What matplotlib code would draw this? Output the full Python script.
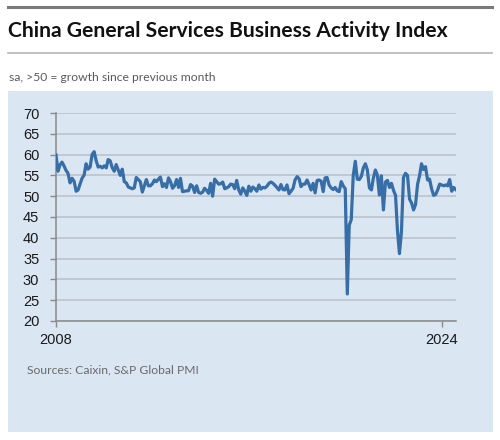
import pandas as pd
import matplotlib.pyplot as plt
from matplotlib.patches import Rectangle
from matplotlib.lines import Line2D

# Caixin China General Services PMI, monthly, Jan 2008 - Aug 2024 (sa)
pmi_2008 = [59.9, 56.0, 57.5, 58.2, 57.3, 56.2, 55.5, 53.2, 54.3, 53.6, 51.2, 51.5]
pmi_2009 = [53.0, 54.4, 55.0, 57.8, 56.5, 57.0, 60.0, 60.7, 58.5, 57.0, 57.2, 56.8]
pmi_2010 = [57.3, 56.8, 58.8, 58.5, 56.9, 56.0, 57.6, 56.3, 55.0, 56.5, 53.5, 53.2]
pmi_2011 = [52.2, 52.0, 51.8, 52.0, 54.5, 54.0, 53.5, 51.0, 52.5, 54.0, 52.5, 52.5]
pmi_2012 = [53.0, 53.9, 53.5, 54.1, 54.6, 52.3, 53.0, 52.1, 54.4, 53.5, 51.9, 52.5]
pmi_2013 = [54.0, 52.1, 54.3, 51.1, 51.2, 51.3, 51.3, 52.8, 52.4, 50.9, 52.5, 50.9]
pmi_2014 = [50.7, 51.0, 51.9, 51.4, 50.7, 53.1, 50.0, 54.1, 53.5, 52.9, 53.0, 53.4]
pmi_2015 = [51.8, 52.0, 52.3, 52.9, 52.8, 51.8, 53.8, 51.5, 50.5, 52.0, 51.2, 50.2]
pmi_2016 = [52.4, 51.2, 52.2, 51.8, 51.2, 52.7, 51.7, 52.1, 52.0, 52.4, 53.1, 53.4]
pmi_2017 = [53.1, 52.6, 52.1, 51.5, 52.8, 51.6, 51.5, 52.7, 50.6, 51.2, 51.9, 53.9]
pmi_2018 = [54.7, 54.2, 52.3, 52.9, 52.9, 53.9, 52.8, 51.5, 53.1, 50.8, 53.8, 53.9]
pmi_2019 = [53.6, 51.1, 54.4, 54.5, 52.7, 52.0, 51.6, 52.1, 51.3, 51.1, 53.5, 52.5]
pmi_2020 = [51.8, 26.5, 43.0, 44.4, 55.0, 58.4, 54.1, 54.0, 54.8, 56.8, 57.8, 56.3]
pmi_2021 = [52.0, 51.5, 54.3, 56.3, 55.1, 50.3, 54.9, 46.7, 53.4, 53.8, 52.1, 53.1]
pmi_2022 = [51.4, 50.2, 42.0, 36.2, 41.4, 54.5, 55.5, 55.0, 49.3, 48.4, 46.7, 48.0]
pmi_2023 = [52.9, 55.0, 57.8, 56.4, 57.1, 53.9, 54.1, 51.8, 50.2, 50.4, 51.5, 52.9]
pmi_2024 = [52.7, 52.5, 52.7, 52.5, 54.0, 51.2, 52.1, 51.6]

y_ticks = [20, 25, 30, 35, 40, 45, 50, 55, 60, 65, 70]
x_tick_labels = ['2008', '2024']

values = (pmi_2008 + pmi_2009 + pmi_2010 + pmi_2011 + pmi_2012 + pmi_2013
          + pmi_2014 + pmi_2015 + pmi_2016 + pmi_2017 + pmi_2018 + pmi_2019
          + pmi_2020 + pmi_2021 + pmi_2022 + pmi_2023 + pmi_2024)
dates = pd.date_range('2008-01-01', periods=len(values), freq='MS')
df = pd.DataFrame({'pmi': values}, index=dates)

BLUE_BG = '#dbe6f3'
LINE = '#376ea8'

fig = plt.figure(figsize=(5, 4.4), dpi=100)
W, H = 500, 440


def fx(px):
    return px / W


def fy(py):
    return 1 - py / H


# header rules and background panel
fig.add_artist(Line2D([fx(8), fx(492)], [fy(7.5), fy(7.5)], color='#7a7a7a', lw=2.2))
fig.add_artist(Line2D([fx(8), fx(492)], [fy(53), fy(53)], color='#b5b5b5', lw=1.2))
fig.add_artist(Rectangle((fx(8), fy(432)), fx(485), (432 - 91) / H,
                         facecolor=BLUE_BG, edgecolor='none', zorder=0))

fig.text(fx(8), fy(31), 'China General Services Business Activity Index',
         fontsize=15.2, fontweight='bold', family='Lato', color='#111111', va='center')
fig.text(fx(9), fy(77), 'sa, >50 = growth since previous month',
         fontsize=8.7, family='Lato', color='#5a5a5a', va='center')
fig.text(fx(27), fy(370), 'Sources: Caixin, S&P Global PMI',
         fontsize=8.7, family='Lato', color='#6a6a6a', va='center')

ax = fig.add_axes([fx(56), fy(321), fx(400), (321 - 113) / H])
ax.set_facecolor('none')
ax.plot(df.index, df['pmi'], color=LINE, lw=2.3, solid_joinstyle='round', zorder=3)

ax.set_ylim(20, 70)
ax.set_yticks(y_ticks)
ax.set_xlim(pd.Timestamp('2008-01-01'), pd.Timestamp('2024-08-05'))
ax.set_xticks([pd.Timestamp(y + '-01-01') for y in x_tick_labels])
ax.set_xticklabels(x_tick_labels)

ax.grid(axis='y', color='#b9c0c8', lw=1.1)
ax.grid(axis='x', visible=False)
for s in ['top', 'right']:
    ax.spines[s].set_visible(False)
for s in ['left', 'bottom']:
    ax.spines[s].set_color('#8a8a8a')
    ax.spines[s].set_linewidth(1.1)

ax.tick_params(axis='y', length=4, width=1, color='#8a8a8a', pad=8,
               labelsize=10.5, labelcolor='#1a1a1a')
ax.tick_params(axis='x', length=4, width=1, color='#8a8a8a', pad=5,
               labelsize=10.5, labelcolor='#1a1a1a')
for lab in ax.get_xticklabels() + ax.get_yticklabels():
    lab.set_family('Liberation Sans')

fig.savefig('out.png', dpi=100)
